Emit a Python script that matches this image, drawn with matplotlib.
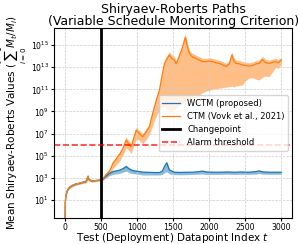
import numpy as np
import matplotlib
matplotlib.use('Agg')
import matplotlib.pyplot as plt

# log10 of the mean SR statistic and its band
ctm_t = [0, 5, 10, 20, 40, 65, 100, 155, 200, 250,
         290, 305, 318, 335, 380, 430, 470, 500, 530, 570,
         618, 640, 664, 700, 730, 757, 800, 849, 880, 918,
         950, 988, 1030, 1079, 1120, 1171, 1200, 1241, 1275, 1310,
         1345, 1379, 1410, 1448, 1480, 1517, 1541, 1580, 1620, 1669,
         1700, 1725, 1766, 1810, 1863, 1910, 1956, 2000, 2047, 2090,
         2140, 2190, 2232, 2280, 2315, 2340, 2371, 2420, 2460, 2509,
         2550, 2600, 2650, 2693, 2739, 2780, 2831, 2880, 2924, 2960,
         3000]
ctm_mean = [-1.0, 0.8, 1.2, 1.6, 1.95, 2.15, 2.3, 2.45, 2.5, 2.6,
            2.65, 2.85, 3.15, 2.8, 2.7, 2.75, 2.78, 2.8, 2.95, 3.3,
            3.6, 3.9, 4.3, 4.6, 4.9, 5.1, 5.6, 6.4, 6.1, 5.8,
            6.5, 7.3, 7.0, 6.7, 7.1, 7.6, 8.4, 9.4, 10.2, 10.9,
            12.2, 13.3, 13.7, 14.1, 13.8, 13.65, 13.3, 13.9, 14.6, 15.7,
            14.8, 14.25, 13.95, 13.8, 13.65, 13.5, 13.5, 13.55, 13.5, 13.4,
            13.35, 13.2, 13.05, 13.3, 14.1, 13.6, 13.35, 13.3, 13.2, 13.15,
            13.1, 13.15, 13.3, 13.35, 13.7, 13.4, 13.35, 13.45, 13.5, 13.4,
            13.65]
ctm_lo = [-1.0, 0.7, 1.1, 1.5, 1.85, 2.05, 2.2, 2.35, 2.42, 2.52,
          2.55, 2.7, 2.9, 2.7, 2.62, 2.68, 2.72, 2.75, 2.85, 3.1,
          3.3, 3.5, 3.8, 4.1, 4.3, 4.5, 5.0, 5.7, 5.5, 5.2,
          5.8, 6.5, 6.4, 6.1, 6.4, 6.9, 7.4, 8.2, 8.7, 9.1,
          9.4, 9.5, 9.2, 8.9, 9.0, 9.2, 9.3, 9.5, 9.7, 9.9,
          10.0, 10.05, 10.1, 10.3, 10.5, 10.7, 10.85, 10.9, 11.0, 11.05,
          11.1, 11.15, 11.2, 11.25, 11.3, 11.2, 11.3, 11.35, 11.4, 11.8,
          12.0, 12.05, 11.9, 11.85, 12.1, 12.2, 12.15, 12.6, 13.0, 12.9,
          13.3]
ctm_hi = [-1.0, 0.9, 1.3, 1.7, 2.05, 2.25, 2.4, 2.55, 2.6, 2.7,
          2.78, 3.0, 3.3, 2.95, 2.8, 2.83, 2.85, 2.86, 3.05, 3.45,
          3.8, 4.1, 4.5, 4.8, 5.1, 5.3, 5.8, 6.7, 6.4, 6.1,
          6.8, 7.6, 7.3, 7.0, 7.4, 7.9, 8.7, 9.7, 10.5, 11.2,
          12.5, 13.6, 14.0, 14.4, 14.1, 13.95, 13.6, 14.2, 14.9, 16.0,
          15.1, 14.55, 14.25, 14.1, 13.95, 13.8, 13.8, 13.85, 13.8, 13.7,
          13.65, 13.5, 13.35, 13.6, 14.4, 13.9, 13.65, 13.6, 13.5, 13.45,
          13.4, 13.45, 13.6, 13.65, 14.0, 13.7, 13.65, 13.75, 13.8, 13.7,
          13.9]

wctm_t = [0, 5, 10, 20, 40, 65, 100, 155, 200, 250,
          290, 305, 318, 335, 380, 430, 470, 500, 530, 570,
          618, 664, 710, 757, 800, 849, 880, 918, 970, 1033,
          1080, 1126, 1200, 1260, 1310, 1350, 1379, 1411, 1448, 1517,
          1600, 1700, 1771, 1850, 1909, 1960, 2050, 2140, 2250, 2350,
          2450, 2550, 2640, 2693, 2750, 2850, 2950, 3000]
wctm_mean = [-1.0, 0.8, 1.2, 1.6, 1.95, 2.15, 2.3, 2.45, 2.5, 2.6,
             2.65, 2.85, 3.1, 2.8, 2.7, 2.75, 2.78, 2.8, 2.9, 3.15,
             3.4, 3.55, 3.62, 3.68, 3.8, 4.0, 3.85, 3.7, 3.6, 3.56,
             3.5, 3.5, 3.48, 3.47, 3.47, 3.6, 4.0, 4.35, 3.7, 3.5,
             3.48, 3.5, 3.5, 3.55, 3.6, 3.52, 3.5, 3.5, 3.52, 3.5,
             3.52, 3.5, 3.55, 3.62, 3.52, 3.5, 3.5, 3.5]
wctm_lo = [-1.0, 0.7, 1.1, 1.5, 1.85, 2.05, 2.2, 2.35, 2.42, 2.52,
           2.55, 2.7, 2.9, 2.7, 2.62, 2.68, 2.72, 2.75, 2.8, 3.0,
           3.2, 3.3, 3.35, 3.4, 3.5, 3.6, 3.5, 3.4, 3.35, 3.3,
           3.25, 3.25, 3.25, 3.25, 3.25, 3.3, 3.45, 3.55, 3.35, 3.28,
           3.27, 3.28, 3.3, 3.32, 3.35, 3.3, 3.3, 3.3, 3.32, 3.3,
           3.32, 3.31, 3.33, 3.38, 3.32, 3.31, 3.31, 3.31]
wctm_hi = [-1.0, 0.9, 1.3, 1.7, 2.05, 2.25, 2.4, 2.55, 2.6, 2.7,
           2.75, 3.0, 3.3, 2.95, 2.8, 2.83, 2.85, 2.86, 3.0, 3.25,
           3.5, 3.65, 3.72, 3.78, 3.95, 4.15, 3.95, 3.8, 3.7, 3.63,
           3.58, 3.57, 3.55, 3.54, 3.55, 3.7, 4.15, 4.5, 3.8, 3.57,
           3.54, 3.56, 3.56, 3.62, 3.66, 3.58, 3.56, 3.56, 3.58, 3.56,
           3.58, 3.56, 3.6, 3.68, 3.58, 3.56, 3.56, 3.56]

changepoint = 500
alarm = 1e6
xticks = [0, 500, 1000, 1500, 2000, 2500, 3000]
ytick_exps = [1, 3, 5, 7, 9, 11, 13, 15]

fig = plt.figure(figsize=(2.99, 2.44), dpi=100)
ax = fig.add_axes([0.181, 0.107, 0.796, 0.778])

ax.plot(wctm_t, 10.0 ** np.array(wctm_mean), color='#1f77b4', lw=0.9,
        label='WCTM (proposed)')
ax.fill_between(wctm_t, 10.0 ** np.array(wctm_lo), 10.0 ** np.array(wctm_hi),
                color='#1f77b4', alpha=0.5, lw=0)
ax.plot(ctm_t, 10.0 ** np.array(ctm_mean), color='#ff7f0e', lw=0.9,
        label='CTM (Vovk et al., 2021)')
ax.fill_between(ctm_t, 10.0 ** np.array(ctm_lo), 10.0 ** np.array(ctm_hi),
                color='#ff7f0e', alpha=0.5, lw=0)
ax.axvline(changepoint, color='k', lw=2, label='Changepoint')
ax.axhline(alarm, color='r', ls='--', lw=1.2, alpha=0.8, label='Alarm threshold')

ax.set_yscale('log')
ax.set_xlim(-150, 3150)
ax.set_ylim(10 ** -0.63, 10 ** 16.54)
ax.set_xticks(xticks)
ax.set_yticks([10.0 ** k for k in ytick_exps])
ax.yaxis.set_minor_locator(matplotlib.ticker.NullLocator())
ax.tick_params(labelsize=5.6, length=2, pad=1.5)
ax.grid(True, ls='--', color='#cccccc', lw=0.5)

ax.set_title('Shiryaev-Roberts Paths\n(Variable Schedule Monitoring Criterion)',
             fontsize=9, pad=1.5, linespacing=0.95)
ax.set_xlabel('Test (Deployment) Datapoint Index $t$', fontsize=7.5, labelpad=-0.5)
ax.set_ylabel(r'Mean Shiryaev-Roberts Values ($\sum_{i=0}^{t-1} M_t/M_i$)',
              fontsize=7.5, labelpad=1.5)
ax.legend(loc='center right', fontsize=6, handlelength=2.2)

fig.savefig('out.png', dpi=100)
